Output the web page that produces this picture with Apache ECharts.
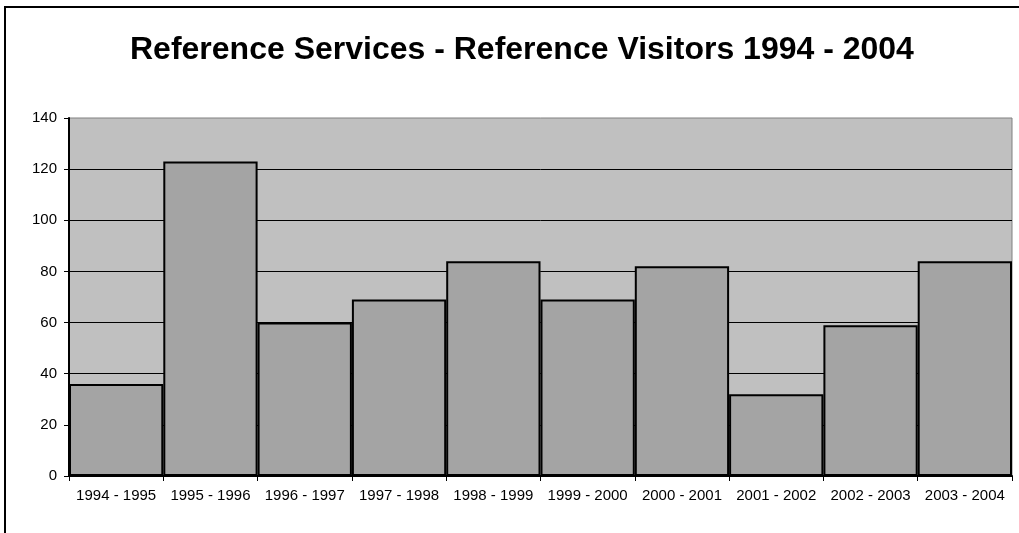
<!DOCTYPE html>
<html>
<head>
<meta charset="utf-8">
<script src="https://cdn.jsdelivr.net/npm/echarts@6/dist/echarts.min.js"></script>
<style>
  html, body { margin: 0; padding: 0; background: #ffffff; }
  #chart { width: 1019px; height: 533px; }
</style>
</head>
<body>
<div id="chart"></div>
<script>
// Annual reference visitors per academic year
const titleText = 'Reference Services - Reference Visitors 1994 - 2004';
const years = ['1994 - 1995', '1995 - 1996', '1996 - 1997', '1997 - 1998', '1998 - 1999',
               '1999 - 2000', '2000 - 2001', '2001 - 2002', '2002 - 2003', '2003 - 2004'];
const visitors = [36, 123, 60, 69, 84, 69, 82, 32, 59, 84];
const yTicks = { min: 0, max: 140, step: 20 };

const chart = echarts.init(document.getElementById('chart'), null, { renderer: 'canvas' });
const font = '"Liberation Sans", Arial, sans-serif';

chart.setOption({
  animation: false,
  backgroundColor: '#ffffff',
  title: {
    text: titleText,
    left: 125,
    top: 29,
    textStyle: { fontFamily: font, fontSize: 32, fontWeight: 'bold', color: '#000' }
  },
  graphic: [{
    type: 'rect',
    shape: { x: 5, y: 7, width: 1100, height: 600 },
    style: { fill: 'none', stroke: '#000', lineWidth: 2 },
    silent: true
  }],
  grid: {
    left: 69, right: 7, top: 118, bottom: 57,
    show: true,
    backgroundColor: '#c0c0c0',
    borderColor: '#808080',
    borderWidth: 1
  },
  xAxis: {
    type: 'category',
    data: years,
    axisLine: { lineStyle: { color: '#000', width: 2 } },
    axisTick: { show: true, length: 5, alignWithLabel: false, lineStyle: { color: '#000' } },
    axisLabel: { color: '#000', fontFamily: font, fontSize: 15, margin: 12, interval: 0 }
  },
  yAxis: {
    type: 'value',
    min: yTicks.min,
    max: yTicks.max,
    interval: yTicks.step,
    axisLine: { show: true, lineStyle: { color: '#000', width: 2 } },
    axisTick: { show: true, length: 5, lineStyle: { color: '#000' } },
    axisLabel: { color: '#000', fontFamily: font, fontSize: 15, margin: 12 },
    splitLine: { show: true, showMaxLine: false, lineStyle: { color: '#000', width: 1 } }
  },
  series: [{
    type: 'bar',
    data: visitors,
    barCategoryGap: '0%',
    itemStyle: { color: '#a4a4a4', borderColor: '#000', borderWidth: 2 }
  }]
});
</script>
</body>
</html>
